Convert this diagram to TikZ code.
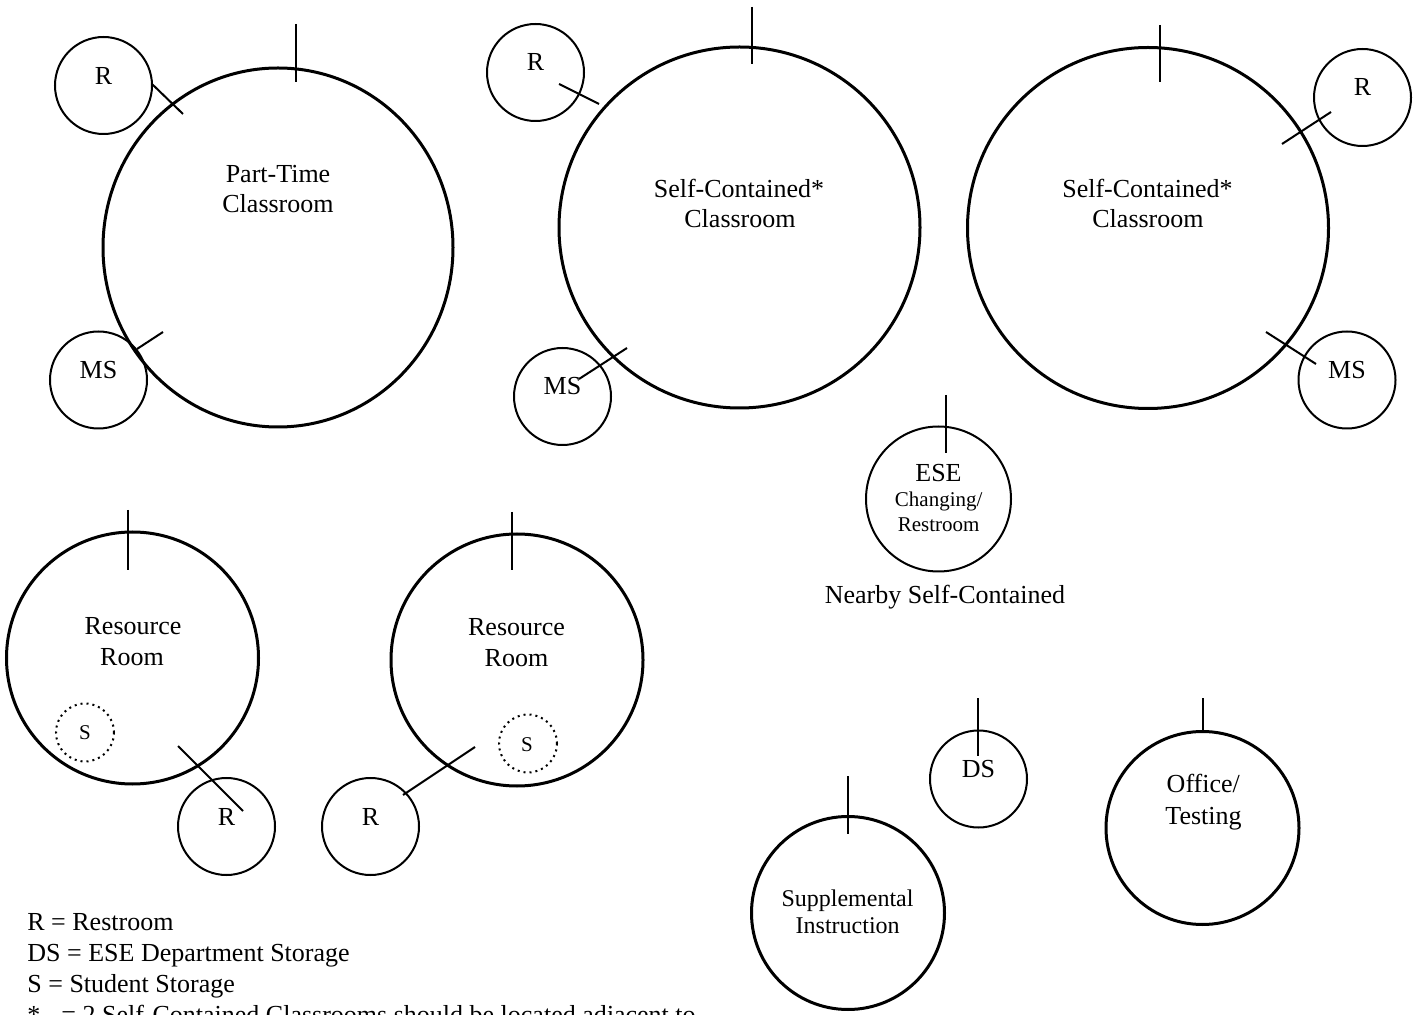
\documentclass[tikz,border=0pt]{standalone}
\usepackage{fontspec}
\setmainfont{Liberation Serif}
\usetikzlibrary{shapes.geometric}
\tikzset{
  room/.style={circle,draw=black,line width=1.5pt,inner sep=0pt},
  closet/.style={circle,draw=black,line width=1pt,inner sep=0pt,minimum size=48.5pt},
  locker/.style={circle,draw=black,dotted,line width=1pt,inner sep=0pt,minimum size=29pt},
  door/.style={draw=black,line width=1pt},
  lbl/.style={inner sep=0pt,anchor=base},
  key/.style={inner sep=0pt,anchor=base west},
}
\newcommand{\smalltext}{\fontsize{10.5}{12}\selectfont}

\begin{document}
\begin{tikzpicture}[x=0.5pt,y=-0.5pt,font=\fontsize{13}{15.5}\selectfont]
\useasboundingbox (0,0) rectangle (1419,1015);
% part-time classroom
\node[room,ellipse,minimum width=175pt,minimum height=179.5pt] (pt) at (278,247.5) {};
\node[lbl] (ptl1) at (278,183) {Part-Time};
\node[lbl] (ptl2) at (278,213) {Classroom};
\node[closet] (ptr) at (103.5,85.5) {};
\node[lbl] (ptrl) at (103.5,84.5) {R};
\node[closet] (ptms) at (98.5,380) {};
\node[lbl] (ptmsl) at (98.5,379) {MS};
\coordinate (ptd1) at (296,24);  \coordinate (ptd2) at (296,82);
\coordinate (ptr1) at (152,84);  \coordinate (ptr2) at (183,114);
\coordinate (ptm1) at (137,349); \coordinate (ptm2) at (163,332);
\path[door] (ptd1) -- (ptd2);
\path[door] (ptr1) -- (ptr2);
\path[door] (ptm1) -- (ptm2);
% self-contained classroom, middle
\node[room,minimum size=180.5pt] (sca) at (739.5,227.5) {};
\node[lbl] (scal1) at (739,197.5) {Self-Contained*};
\node[lbl] (scal2) at (740,227.5) {Classroom};
\node[closet] (scar) at (535.5,72.5) {};
\node[lbl] (scarl) at (535.5,70.5) {R};
\node[closet] (scams) at (562.5,396.5) {};
\node[lbl] (scamsl) at (562.5,395) {MS};
\coordinate (scad1) at (752,7);   \coordinate (scad2) at (752,64);
\coordinate (scar1) at (559,84);  \coordinate (scar2) at (599,104);
\coordinate (scam1) at (579,379); \coordinate (scam2) at (627,348);
\path[door] (scad1) -- (scad2);
\path[door] (scar1) -- (scar2);
\path[door] (scam1) -- (scam2);
% self-contained classroom, right
\node[room,minimum size=180.5pt] (scb) at (1148,228) {};
\node[lbl] (scbl1) at (1147.5,197.5) {Self-Contained*};
\node[lbl] (scbl2) at (1148,227.5) {Classroom};
\node[closet] (scbr) at (1362.5,97.5) {};
\node[lbl] (scbrl) at (1362.5,95.5) {R};
\node[closet] (scbms) at (1347,380) {};
\node[lbl] (scbmsl) at (1347,379) {MS};
\coordinate (scbd1) at (1160,25);  \coordinate (scbd2) at (1160,82);
\coordinate (scbr1) at (1282,144); \coordinate (scbr2) at (1331,112);
\coordinate (scbm1) at (1266,332); \coordinate (scbm2) at (1316,364);
\path[door] (scbd1) -- (scbd2);
\path[door] (scbr1) -- (scbr2);
\path[door] (scbm1) -- (scbm2);
% ese changing room
\node[closet,minimum size=72.5pt] (ese) at (938.5,499) {};
\node[lbl] (esel1) at (938.5,481.5) {ESE};
\node[lbl,font=\smalltext] (esel2) at (938.7,507) {Changing/};
\node[lbl,font=\smalltext] (esel3) at (938.7,531.5) {Restroom};
\node[lbl] (nearby) at (945,603.5) {Nearby Self-Contained};
\coordinate (esed1) at (946,395); \coordinate (esed2) at (946,453);
\path[door] (esed1) -- (esed2);
% resource rooms
\node[room,minimum size=126pt] (rra) at (132.5,658) {};
\node[lbl] (rral1) at (133,635) {Resource};
\node[lbl] (rral2) at (132,666) {Room};
\node[locker] (rras) at (85,732.5) {};
\node[lbl,font=\smalltext] (rrasl) at (85,740) {S};
\node[closet] (rrar) at (226.5,826.5) {};
\node[lbl] (rrarl) at (226.5,825) {R};
\coordinate (rrad1) at (128,510); \coordinate (rrad2) at (128,570);
\coordinate (rrar1) at (178,746); \coordinate (rrar2) at (243,811);
\path[door] (rrad1) -- (rrad2);
\path[door] (rrar1) -- (rrar2);
\node[room,minimum size=126pt] (rrb) at (517,660) {};
\node[lbl] (rrbl1) at (516.5,636) {Resource};
\node[lbl] (rrbl2) at (516.5,667) {Room};
\node[locker] (rrbs) at (528,743.5) {};
\node[lbl,font=\smalltext] (rrbsl) at (527,751.5) {S};
\node[closet] (rrbr) at (370.5,826.5) {};
\node[lbl] (rrbrl) at (370.5,825) {R};
\coordinate (rrbd1) at (512,512); \coordinate (rrbd2) at (512,570);
\coordinate (rrbr1) at (403,795); \coordinate (rrbr2) at (475,747);
\path[door] (rrbd1) -- (rrbd2);
\path[door] (rrbr1) -- (rrbr2);
% storage, supplemental, office
\node[closet] (ds) at (978.5,779) {};
\node[lbl] (dsl) at (978.5,777) {DS};
\coordinate (dsd1) at (978,698); \coordinate (dsd2) at (978,756);
\path[door] (dsd1) -- (dsd2);
\node[room,minimum size=96.5pt] (si) at (848,913) {};
\node[lbl,font=\fontsize{12}{14}\selectfont] (sil1) at (847.5,906.5) {Supplemental};
\node[lbl,font=\fontsize{12}{14}\selectfont] (sil2) at (847.7,933) {Instruction};
\coordinate (sid1) at (848,776); \coordinate (sid2) at (848,834);
\path[door] (sid1) -- (sid2);
\node[room,minimum size=96.5pt] (ot) at (1202.5,828) {};
\node[lbl] (otl1) at (1203.3,792) {Office/};
\node[lbl] (otl2) at (1203.5,824) {Testing};
\coordinate (otd1) at (1203,698); \coordinate (otd2) at (1203,731);
\path[door] (otd1) -- (otd2);
% key
\node[key] (key1) at (27,930.5) {R = Restroom};
\node[key] (key2) at (27,961.5) {DS = ESE Department Storage};
\node[key] (key3) at (27,992.5) {S = Student Storage};
\node[key] (key4) at (27,1023.5) {*};
\node[key] (key5) at (61,1023.5) {= 2 Self-Contained Classrooms should be located adjacent to};
\end{tikzpicture}
\end{document}
